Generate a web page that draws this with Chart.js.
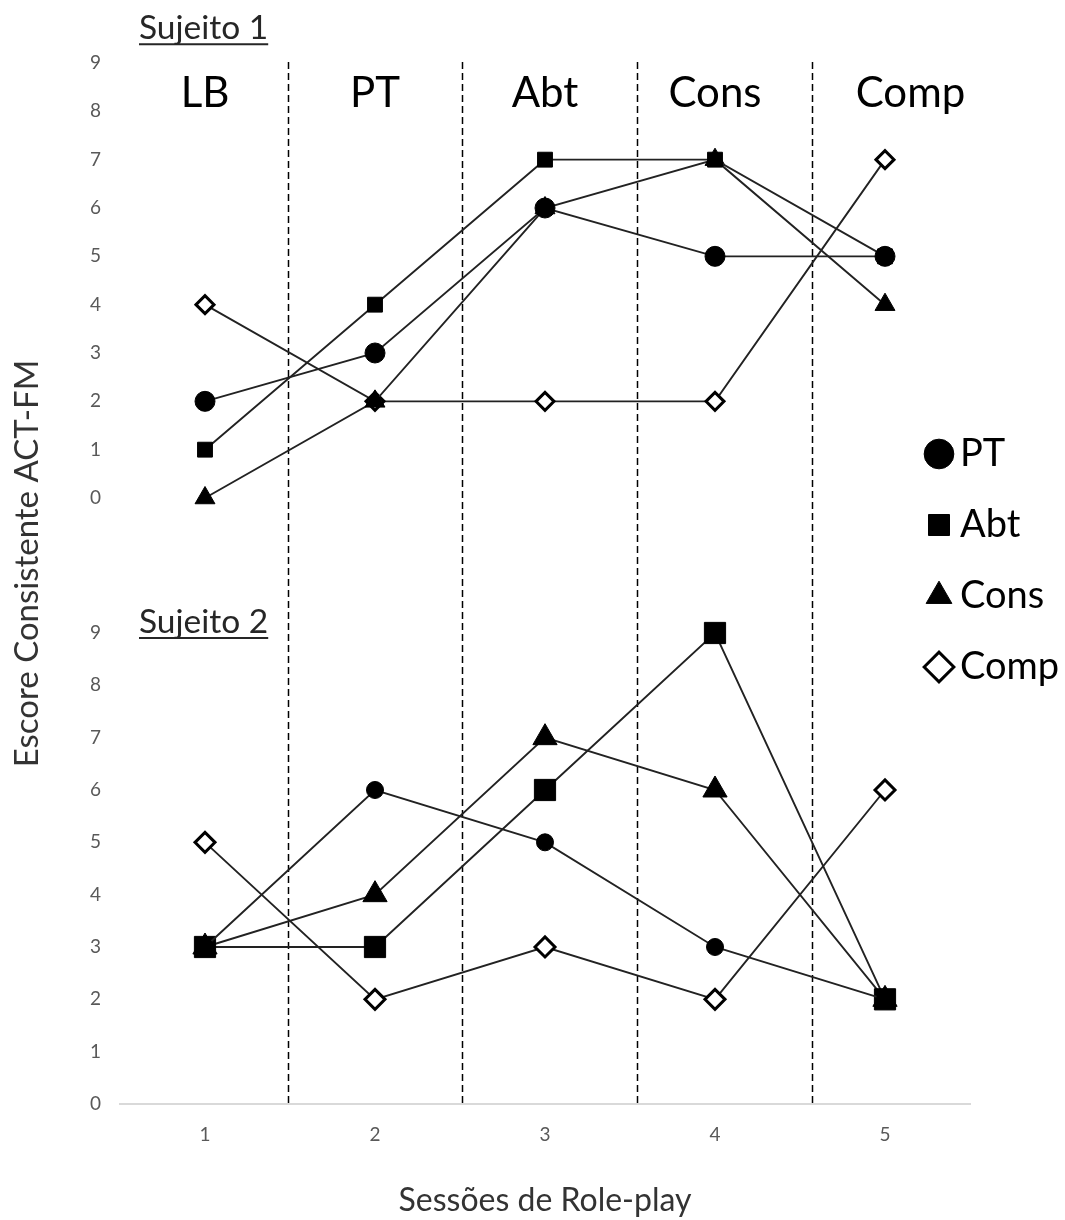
<!DOCTYPE html>
<html>
<head>
<meta charset="utf-8">
<script src="https://cdn.jsdelivr.net/npm/chart.js@4.4.0/dist/chart.umd.min.js"></script>
<style>
  html, body { margin: 0; padding: 0; background: #fff; }
  #wrap { width: 1065px; height: 1220px; }
</style>
</head>
<body>
<div id="wrap"><canvas id="myChart" width="1065" height="1220"></canvas></div>
<script>
// sessions on the x axis and the phase for each region
const sessions = ["1", "2", "3", "4", "5"];
const phaseNames = ["LB", "PT", "Abt", "Cons", "Comp"];
const phaseLabelAt = [1, 2, 3, 4, 5.15];
const phaseBreaks = [1.49, 2.51, 3.54, 4.57];
const subjects = ["Sujeito 1", "Sujeito 2"];
const seriesNames = ["PT", "Abt", "Cons", "Comp"];
const yTicks = [0, 1, 2, 3, 4, 5, 6, 7, 8, 9];

// Sujeito 1
const s1PT = [2, 3, 6, 5, 5];
const s1Abt = [1, 4, 7, 7, 5];
const s1Cons = [0, 2, 6, 7, 4];
const s1Comp = [4, 2, 2, 2, 7];

// Sujeito 2
const s2PT = [3, 6, 5, 3, 2];
const s2Abt = [3, 3, 6, 9, 2];
const s2Cons = [3, 4, 7, 6, 2];
const s2Comp = [5, 2, 3, 2, 6];

const markerStyle = ["circle", "rect", "triangle", "rectRot"];
const markerFill = ["#000", "#000", "#000", "#fff"];
const topRadius = [10, 10.5, 11.5, 9];
const bottomRadius = [8.5, 15, 14, 10];

Chart.defaults.font.family = "Lato";

function makeSet(label, data, i, axis, radius) {
  return {
    label: label,
    data: data,
    yAxisID: axis,
    borderColor: "#222",
    borderWidth: 1.9,
    tension: 0,
    clip: false,
    pointStyle: markerStyle[i],
    pointRadius: radius[i],
    pointHoverRadius: radius[i],
    pointBackgroundColor: markerFill[i],
    pointBorderColor: "#000",
    pointBorderWidth: i === 3 ? 3 : 1,
  };
}

const topSeries = [s1PT, s1Abt, s1Cons, s1Comp];
const bottomSeries = [s2PT, s2Abt, s2Cons, s2Comp];
const datasets = [];
topSeries.forEach((d, i) => datasets.push(makeSet(seriesNames[i], d, i, "yTop", topRadius)));
bottomSeries.forEach((d, i) => datasets.push(makeSet(seriesNames[i], d, i, "yBottom", bottomRadius)));

// dashed phase lines, phase names, subject headings
const phasePlugin = {
  id: "phases",
  afterLayout(chart) {
    const lg = chart.legend;
    lg.left = 904; lg.right = 1065;
    lg.top = 402; lg.bottom = 1220;
    const t = chart.scales.yTitle;
    t.top -= 20; t.bottom -= 20;
  },
  beforeDatasetsDraw(chart) {
    const { ctx, chartArea } = chart;
    const x = chart.scales.x;
    ctx.save();
    ctx.strokeStyle = "#000";
    ctx.lineWidth = 1.5;
    ctx.setLineDash([7, 4]);
    phaseBreaks.forEach((b) => {
      const px = Math.round(x.getPixelForValue(b - 1)) + 0.5;
      ctx.beginPath();
      ctx.moveTo(px, chartArea.top - 1);
      ctx.lineTo(px, chartArea.bottom);
      ctx.stroke();
    });
    ctx.restore();
  },
  afterDraw(chart) {
    const { ctx, chartArea } = chart;
    const x = chart.scales.x;
    const yTop = chart.scales.yTop;
    const yBottom = chart.scales.yBottom;
    ctx.save();
    ctx.fillStyle = "#000";
    ctx.textAlign = "center";
    ctx.textBaseline = "alphabetic";
    ctx.font = "42px Lato";
    phaseNames.forEach((p, i) => {
      ctx.fillText(p, x.getPixelForValue(phaseLabelAt[i] - 1), yTop.getPixelForValue(8.09));
    });

    ctx.textAlign = "left";
    ctx.font = "33.5px Lato";
    ctx.fillStyle = "#262626";
    ctx.strokeStyle = "#262626";
    ctx.lineWidth = 2;
    const baseY = [yTop.getPixelForValue(9.49), yBottom.getPixelForValue(9.0)];
    subjects.forEach((s, i) => {
      const sx = chartArea.left + 19;
      ctx.fillText(s, sx, baseY[i]);
      const w = ctx.measureText(s).width;
      ctx.beginPath();
      ctx.moveTo(sx, baseY[i] + 5);
      ctx.lineTo(sx + w, baseY[i] + 5);
      ctx.stroke();
    });
    ctx.restore();
  },
};

const tickStyle = { color: "#595959", font: { size: 19 } };

new Chart(document.getElementById("myChart"), {
  type: "line",
  data: { labels: sessions, datasets: datasets },
  options: {
    responsive: false,
    animation: false,
    devicePixelRatio: 1,
    layout: { padding: { top: 63, right: 0, bottom: 0, left: 0 } },
    plugins: {
      tooltip: { enabled: false },
      legend: {
        position: "right",
        align: "start",
        maxWidth: 95,
        labels: {
          usePointStyle: true,
          boxWidth: 4,
          boxHeight: 21,
          padding: 33,
          color: "#000",
          font: { size: 38 },
          filter: (item) => item.datasetIndex < 4,
        },
      },
    },
    scales: {
      x: {
        type: "category",
        offset: true,
        grid: { display: false, drawTicks: false },
        border: { display: true, color: "#d9d9d9", width: 2 },
        ticks: { color: tickStyle.color, font: tickStyle.font, padding: 19 },
        title: {
          display: true,
          text: "Sessões de Role-play",
          color: "#333",
          font: { size: 32 },
          padding: { top: 0, bottom: 0 },
        },
        afterFit(s) { s.height = 116; },
      },
      yBottom: {
        type: "linear",
        position: "left",
        stack: "panels",
        stackWeight: 538,
        min: 0,
        max: 10.28,
        grid: { display: false, drawTicks: false },
        border: { display: false },
        ticks: { color: tickStyle.color, font: tickStyle.font, padding: 19 },
        afterBuildTicks(s) { s.ticks = yTicks.map((v) => ({ value: v })); },
        afterFit(s) { s.width = 60; },
      },
      yTop: {
        type: "linear",
        position: "left",
        stack: "panels",
        stackWeight: 503,
        min: -1.407,
        max: 9,
        grid: { display: false, drawTicks: false },
        border: { display: false },
        ticks: { color: tickStyle.color, font: tickStyle.font, padding: 19 },
        afterBuildTicks(s) { s.ticks = yTicks.map((v) => ({ value: v })); },
        afterFit(s) { s.width = 60; },
      },
      yTitle: {
        type: "linear",
        position: "left",
        grid: { display: false, drawTicks: false },
        border: { display: false },
        ticks: { display: false },
        title: {
          display: true,
          text: "Escore Consistente ACT-FM",
          color: "#333",
          font: { size: 33 },
          padding: { top: 8, bottom: 0 },
        },
        afterFit(s) { s.width = 60; },
      },
    },
  },
  plugins: [phasePlugin],
});
</script>
</body>
</html>
